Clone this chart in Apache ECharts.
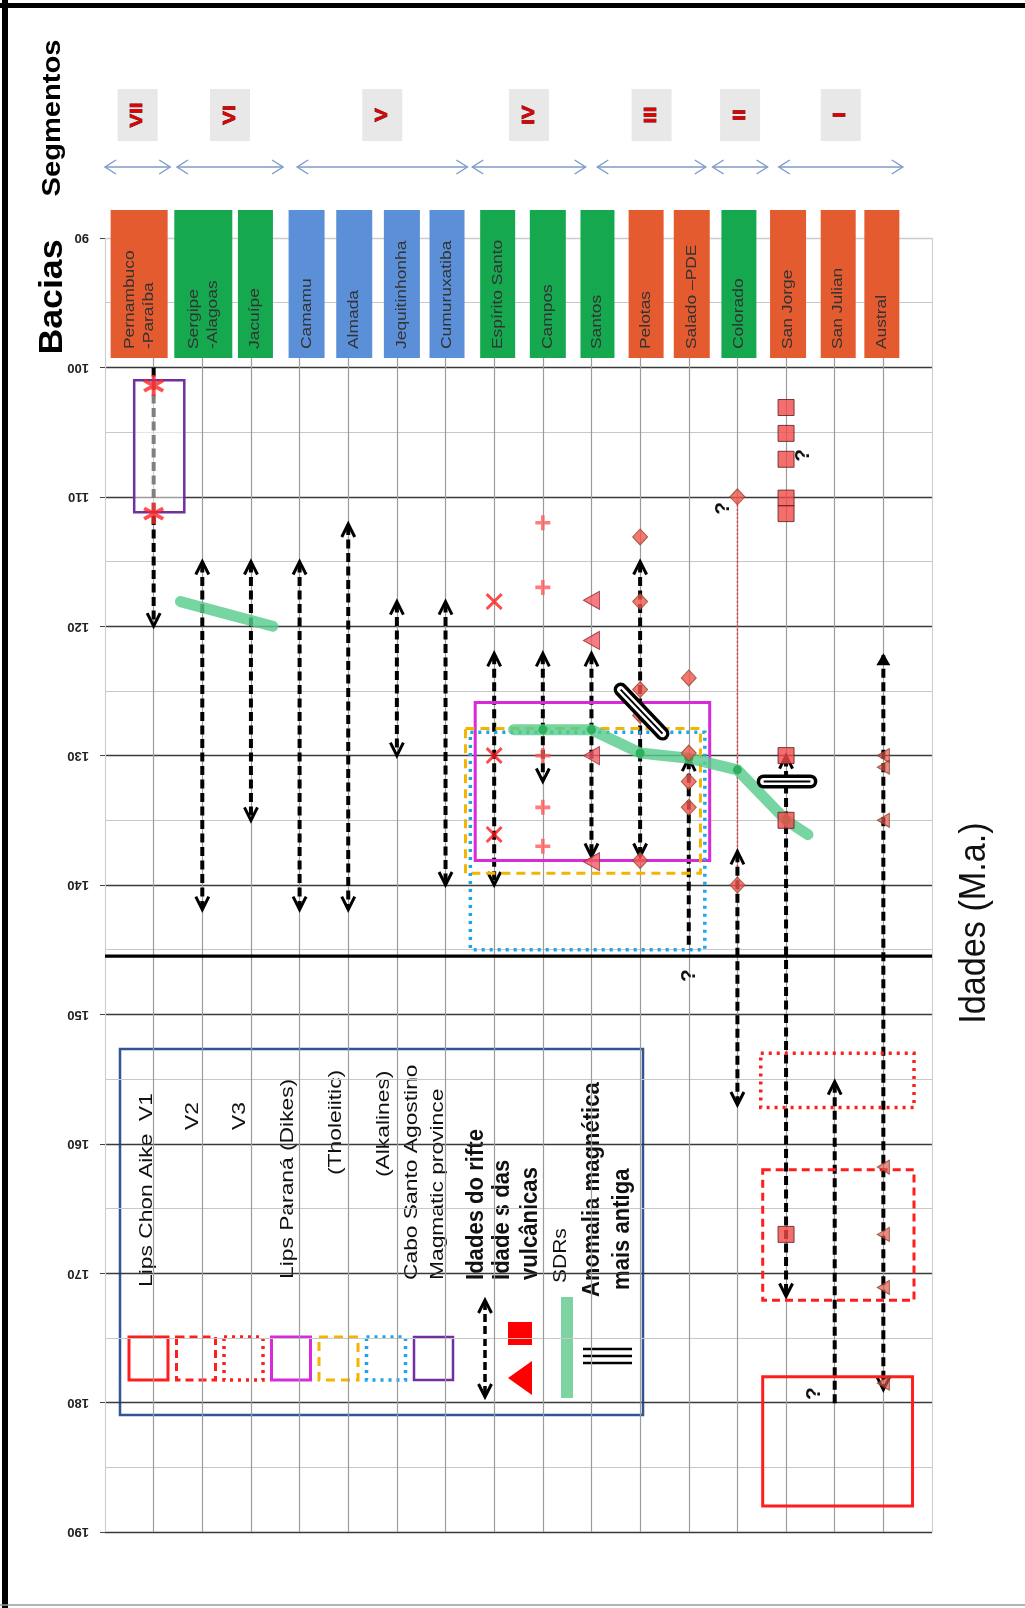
<!DOCTYPE html>
<html>
<head>
<meta charset="utf-8">
<title>Idades do rifte e vulcanismo nas bacias da margem</title>
<script src="https://cdn.jsdelivr.net/npm/echarts@6/dist/echarts.min.js"></script>
<style>
  html, body { margin: 0; padding: 0; background: #ffffff; }
  #chart { width: 1025px; height: 1608px; }
</style>
</head>
<body>
<div id="chart"></div>
<script>
// ---------------------------------------------------------------
// Data
// ---------------------------------------------------------------

// Basins, north to south (x position = index + 1)
const basins = ['Pernambuco\n-Paraíba', 'Sergipe\n-Alagoas', 'Jacuípe', 'Camamu', 'Almada',
  'Jequitinhonha', 'Cumuruxatiba', 'Espírito Santo', 'Campos', 'Santos', 'Pelotas',
  'Salado –PDE', 'Colorado', 'San Jorge', 'San Julian', 'Austral'];
const basinKind = ['laranja', 'verde', 'verde', 'azul', 'azul', 'azul', 'azul', 'verde',
  'verde', 'verde', 'laranja', 'laranja', 'verde', 'laranja', 'laranja', 'laranja'];

// Margin segments and the basin span each one covers
const segmentNames = ['VII', 'VI', 'V', 'IV', 'III', 'II', 'I'];
const segmentFrom = [0.00, 1.48, 3.95, 7.55, 10.12, 12.49, 13.85];
const segmentTo = [1.34, 3.66, 7.45, 9.88, 12.35, 13.62, 16.40];

// Age axis (M.a.)
const ageMin = 90;
const ageMax = 190;
const ageStep = 10;
const boundaryAge = 145.5;

// Rift ages: basin, youngest, oldest, which ends carry an arrow head
const riftBasin = [1, 2, 3, 4, 5, 6, 7, 8, 9, 10, 11, 12, 13, 14, 15, 16];
const riftYoung = [100.0, 115.0, 115.0, 115.0, 112.1, 118.1, 118.1, 122.1, 122.1, 122.1, 115.0, 130.2, 137.4, 130.0, 155.2, 122.1];
const riftOld = [120.0, 141.9, 135.0, 141.9, 141.9, 130.0, 140.0, 140.0, 132.0, 137.8, 137.8, 145.0, 157.0, 171.8, 180.2, 179.0];
const riftHeads = ['old', 'both', 'both', 'both', 'both', 'both', 'both', 'both', 'both', 'both', 'both', 'young', 'both', 'both', 'young', 'both'];

// Volcanic ages: [basin, age]
const asterisks = [[1, 101.4], [1, 111.3]];
const crosses = [[8, 118.1], [8, 130.0], [8, 136.1]];
const pluses = [[9, 112.0], [9, 117.0], [9, 130.0], [9, 134.0], [9, 137.0]];
const trianglesSantos = [[10, 118.0], [10, 121.1], [10, 130.0], [10, 138.2]];
const trianglesAustral = [[16, 130.0], [16, 130.9], [16, 135.0], [16, 161.8], [16, 167.0], [16, 171.1], [16, 178.5]];
const diamonds = [[11, 113.1], [11, 118.1], [11, 124.9], [11, 126.9], [11, 138.1],
  [12, 124.0], [12, 129.8], [12, 132.0], [12, 134.0], [13, 110.0], [13, 140.0]];
const squares = [[14, 103.1], [14, 105.1], [14, 107.1], [14, 110.1], [14, 111.3], [14, 130.0], [14, 135.0], [14, 167.0]];

// Uncertain age span linking two Colorado dates: [basin, young, old]
const dottedLinks = [[13, 110.0, 140.0]];

// SDR traces: [basin position, age]
const sdrNorth = [[1.55, 118.1], [3.45, 120.0]];
const sdrSouth = [[8.4, 128.0], [9, 128.0], [10, 128.0], [11, 129.8], [12, 130.2], [13, 131.1], [14, 135.0], [14.45, 136.1]];

// Oldest magnetic anomaly: [x0, age0, x1, age1]
const anomalies = [[10.6, 124.9, 11.46, 128.3], [13.54, 132.0, 14.5, 132.0]];

// Magmatic provinces (boxes): basin span and age span
const provinceNames = ['Lips Chon Aike  V1', 'V2', 'V3', 'Lips Paraná (Dikes)', '(Tholeiitic)', '(Alkalines)', 'Cabo Santo Agostino'];
const provinceX0 = [13.52, 13.52, 13.48, 7.61, 7.41, 7.51, 0.60];
const provinceX1 = [16.60, 16.63, 16.63, 12.43, 12.24, 12.33, 1.63];
const provinceYoung = [178.0, 162.0, 153.0, 125.9, 127.9, 128.2, 101.0];
const provinceOld = [188.0, 172.1, 157.2, 138.1, 139.1, 145.0, 111.2];

// Question marks on doubtful ages: [basin position, age]
const queries = [[12.7, 110.9], [14.36, 106.8], [12.0, 147.0], [14.57, 179.3]];

// ---------------------------------------------------------------
// Styling
// ---------------------------------------------------------------
const FONT = '"Liberation Sans", Arial, Helvetica, sans-serif';
const KIND_COLOR = { laranja: '#E55B30', verde: '#15A84F', azul: '#5B8FD7' };
const BAR_SHIFT = [-14.5, 1, 4.5, 7, 6, 5, 1.5, 3.5, 5, 6, 6, 3, 1.5, 2, 3.5, -1.5];
const BAR_WIDTH = [57, 58, 35, 36, 36, 36, 35, 35, 36, 34, 35, 36, 35, 36, 35, 35];
const PROVINCE_STYLE = [
  { stroke: '#FF1E1E', lineWidth: 3, lineDash: null },
  { stroke: '#FF1E1E', lineWidth: 3, lineDash: [8, 5] },
  { stroke: '#FF1E1E', lineWidth: 3.5, lineDash: [3, 5] },
  { stroke: '#D82AD8', lineWidth: 3, lineDash: null },
  { stroke: '#F4B400', lineWidth: 3, lineDash: [9, 6] },
  { stroke: '#1DA4EC', lineWidth: 3.5, lineDash: [3, 5] },
  { stroke: '#7030A0', lineWidth: 2.5, lineDash: null, fill: 'rgba(255,255,255,0.5)' }
];
const SEG_COLOR = '#7E9BC6';

const ASTERISK = 'path://M41,0L59,0L59,100L41,100Z M2.2,32.8L11.2,17.2L97.8,67.2L88.8,82.8Z M2.2,67.2L88.8,17.2L97.8,32.8L11.2,82.8Z';
const CROSS = 'path://M12,0L50,38L88,0L100,12L62,50L100,88L88,100L50,62L12,100L0,88L38,50L0,12Z';
const PLUS = 'path://M38,0L62,0L62,38L100,38L100,62L62,62L62,100L38,100L38,62L0,62L0,38L38,38Z';
const TRI_LEFT = 'path://M0,50L100,0L100,100Z';

// ---------------------------------------------------------------
// Drawing helpers
// ---------------------------------------------------------------
function arrowHead(x, y, dir, filled) {
  // dir = -1 points up (towards younger ages), +1 points down
  const back = y - dir * 13;
  if (filled) {
    return { type: 'polygon', shape: { points: [[x - 7, back + dir * 1], [x, y], [x + 7, back + dir * 1]] }, style: { fill: '#000' } };
  }
  return { type: 'polyline', shape: { points: [[x - 6.5, back], [x, y], [x + 6.5, back]] },
    style: { stroke: '#000', lineWidth: 3, fill: null } };
}

function renderHeader(params, api) {
  const i = params.dataIndex;
  const p = api.coord([api.value(0), ageMin]);
  const cx = p[0] + BAR_SHIFT[i];
  const w = BAR_WIDTH[i];
  const top = p[1] - 28, bottom = p[1] + 120;
  return { type: 'group', children: [
    { type: 'rect', shape: { x: cx - w / 2, y: top, width: w, height: bottom - top }, style: { fill: KIND_COLOR[basinKind[i]] } },
    { type: 'text', x: cx, y: bottom - 9, rotation: Math.PI / 2, scaleX: 1.2,
      style: { text: basins[i], fill: '#333', font: '14.5px ' + FONT, align: 'left', verticalAlign: 'middle', lineHeight: 19 } }
  ] };
}

function renderSegment(params, api) {
  const i = params.dataIndex;
  const a = api.coord([api.value(0), ageMin]);
  const b = api.coord([api.value(1), ageMin]);
  const ya = a[1] - 71, yl = a[1] - 123;
  const xm = (a[0] + b[0]) / 2;
  const st = { stroke: SEG_COLOR, lineWidth: 1.4, fill: null };
  return { type: 'group', children: [
    { type: 'line', shape: { x1: a[0], y1: ya, x2: b[0], y2: ya }, style: st },
    { type: 'polyline', shape: { points: [[a[0] + 11, ya - 7], [a[0], ya], [a[0] + 11, ya + 7]] }, style: st },
    { type: 'polyline', shape: { points: [[b[0] - 11, ya - 7], [b[0], ya], [b[0] - 11, ya + 7]] }, style: st },
    { type: 'rect', shape: { x: xm - 20, y: yl - 26, width: 40, height: 52 }, style: { fill: '#E8E8E8' } },
    { type: 'text', x: xm, y: yl, rotation: Math.PI / 2, scaleX: 1.2,
      style: { text: segmentNames[i], fill: '#E30000', font: 'bold 17px ' + FONT, align: 'center', verticalAlign: 'middle',
        stroke: '#3a0000', lineWidth: 0.7 } }
  ] };
}

function renderRift(params, api) {
  const i = params.dataIndex;
  const a = api.coord([api.value(0), api.value(1)]);
  const b = api.coord([api.value(0), api.value(2)]);
  const x = a[0];
  const up = riftHeads[i] === 'both' || riftHeads[i] === 'young';
  const down = riftHeads[i] === 'both' || riftHeads[i] === 'old';
  const kids = [{ type: 'line', shape: { x1: x, y1: a[1] + (up ? 2 : 0), x2: x, y2: b[1] - (down ? 2 : 0) },
    style: { stroke: '#000', lineWidth: 4, lineDash: [9, 4.5] } }];
  if (up) kids.push(arrowHead(x, a[1], -1, riftBasin[i] === 16));
  if (down) kids.push(arrowHead(x, b[1], 1, false));
  return { type: 'group', children: kids };
}

function renderLink(params, api) {
  const a = api.coord([api.value(0), api.value(1)]);
  const b = api.coord([api.value(0), api.value(2)]);
  return { type: 'line', shape: { x1: a[0], y1: a[1], x2: b[0], y2: b[1] },
    style: { stroke: '#F23030', lineWidth: 1.4, lineDash: [2, 2] } };
}

function renderProvince(params, api) {
  const i = params.dataIndex;
  const a = api.coord([api.value(0), api.value(2)]);
  const b = api.coord([api.value(1), api.value(3)]);
  const s = PROVINCE_STYLE[i];
  return { type: 'rect', shape: { x: a[0], y: a[1], width: b[0] - a[0], height: b[1] - a[1] },
    style: { stroke: s.stroke, lineWidth: s.lineWidth, lineDash: s.lineDash, fill: s.fill || null } };
}

function renderBoundary(params, api) {
  const a = api.coord([0, api.value(0)]);
  const b = api.coord([17, api.value(0)]);
  return { type: 'line', shape: { x1: a[0], y1: a[1], x2: b[0], y2: b[1] }, style: { stroke: '#000', lineWidth: 3.2 } };
}

function renderAnomaly(params, api) {
  const a = api.coord([api.value(0), api.value(1)]);
  const b = api.coord([api.value(2), api.value(3)]);
  const shape = { x1: a[0], y1: a[1], x2: b[0], y2: b[1] };
  return { type: 'group', children: [
    { type: 'line', shape: shape, style: { stroke: '#000', lineWidth: 14, lineCap: 'round' } },
    { type: 'line', shape: shape, style: { stroke: '#fff', lineWidth: 7, lineCap: 'round' } },
    { type: 'line', shape: shape, style: { stroke: '#000', lineWidth: 2 } }
  ] };
}

function renderQuery(params, api) {
  const p = api.coord([api.value(0), api.value(1)]);
  return { type: 'text', x: p[0], y: p[1], rotation: Math.PI / 2,
    style: { text: '?', fill: '#111', fontSize: 21, fontWeight: 'bold', fontFamily: FONT, align: 'center', verticalAlign: 'middle' } };
}

// ---------------------------------------------------------------
// Legend (drawn inside the plot area)
// ---------------------------------------------------------------
function vText(text, x, yStart, font, scale) {
  return { type: 'text', x: x, y: yStart, rotation: Math.PI / 2, scaleX: scale,
    style: { text: text, fill: '#111', font: font, align: 'left', verticalAlign: 'middle' } };
}
const legendChildren = [
  { type: 'rect', shape: { x: 120, y: 1049, width: 523, height: 366 }, style: { fill: '#fff', stroke: '#2F5597', lineWidth: 2.5 } }
];
PROVINCE_STYLE.forEach(function (s, i) {
  legendChildren.push({ type: 'rect', shape: { x: 129 + i * 47.5, y: 1337, width: 39, height: 43 },
    style: { stroke: s.stroke, lineWidth: s.lineWidth, lineDash: s.lineDash, fill: null } });
});
const REG = '19px ' + FONT, BLD = 'bold 23px ' + FONT;
legendChildren.push(
  vText(provinceNames[0], 147, 1287, REG, 1.2),
  vText(provinceNames[1], 193, 1130, REG, 1.2),
  vText(provinceNames[2], 240, 1130, REG, 1.2),
  vText(provinceNames[3], 288, 1279, REG, 1.2),
  vText(provinceNames[4], 336, 1175, REG, 1.2),
  vText(provinceNames[5], 384, 1177, REG, 1.2),
  vText(provinceNames[6], 412, 1280, REG, 1.2),
  vText('Magmatic province', 438, 1280, REG, 1.2),
  vText('Idades do rifte', 477, 1280, BLD, 0.96),
  vText('Idade s das', 503, 1280, BLD, 0.96),
  vText('vulcânicas', 531, 1280, BLD, 0.96),
  vText('SDRs', 561, 1283, '17.5px ' + FONT, 1.2),
  vText('Anomalia magnética', 593, 1297, BLD, 0.96),
  vText('mais antiga', 623, 1290, BLD, 0.96),
  // rift-age arrow
  { type: 'line', shape: { x1: 485, y1: 1302, x2: 485, y2: 1395 }, style: { stroke: '#000', lineWidth: 3.5, lineDash: [8, 4] } },
  arrowHead(485, 1300, -1, false),
  arrowHead(485, 1397, 1, false),
  // volcanic-age symbols
  { type: 'rect', shape: { x: 508, y: 1322, width: 24, height: 23 }, style: { fill: '#FF0000' } },
  { type: 'polygon', shape: { points: [[508, 1378], [532, 1361], [532, 1395]] }, style: { fill: '#FF0000' } },
  // SDR bar
  { type: 'rect', shape: { x: 561, y: 1297, width: 12, height: 101 }, style: { fill: '#7ED3A2' } },
  // anomaly mark
  { type: 'line', shape: { x1: 583, y1: 1349, x2: 632, y2: 1349 }, style: { stroke: '#000', lineWidth: 2.5 } },
  { type: 'line', shape: { x1: 583, y1: 1356, x2: 632, y2: 1356 }, style: { stroke: '#000', lineWidth: 2.5 } },
  { type: 'line', shape: { x1: 583, y1: 1363, x2: 632, y2: 1363 }, style: { stroke: '#000', lineWidth: 2.5 } }
);

// ---------------------------------------------------------------
// Chart
// ---------------------------------------------------------------
const chart = echarts.init(document.getElementById('chart'), null, { renderer: 'canvas', width: 1025, height: 1608 });

const xLineColors = ['#cfcfcf'];
for (let i = 1; i < 17; i++) xLineColors.push('#9c9c9c');
xLineColors.push('#cfcfcf');
const yLineColors = ['#cccccc'];
for (let a = ageMin + ageStep; a <= ageMax; a += ageStep) yLineColors.push('#3a3a3a');

const pointSeries = function (data, symbol, size, color, border, z) {
  return { type: 'scatter', data: data, symbol: symbol, symbolSize: size, z: z || 6, silent: true,
    itemStyle: { color: color, borderColor: border || null, borderWidth: border ? 1 : 0 } };
};

const sdrSeries = function (pts) {
  return { type: 'line', data: pts, z: 5, silent: true, showAllSymbol: true,
    symbol: 'circle', symbolSize: function (v) { return Number.isInteger(v[0]) ? 9 : 0; },
    itemStyle: { color: '#2DAF5C' },
    lineStyle: { color: 'rgba(88,204,140,0.82)', width: 11, cap: 'round', join: 'round' } };
};

chart.setOption({
  animation: false,
  backgroundColor: '#ffffff',
  grid: { left: 105, right: 93, top: 238, bottom: 76 },
  xAxis: {
    type: 'value', min: 0, max: 17, interval: 1,
    axisLine: { show: false }, axisTick: { show: false }, axisLabel: { show: false },
    splitLine: { show: true, lineStyle: { color: xLineColors, width: 1.2 } }
  },
  yAxis: {
    type: 'value', min: ageMin, max: ageMax, interval: ageStep, inverse: true,
    axisLine: { show: false },
    axisTick: { show: true, length: 5, lineStyle: { color: '#444' } },
    axisLabel: { rotate: 180, margin: 16, fontSize: 13, fontWeight: 'bold', color: '#222', fontFamily: FONT },
    splitLine: { show: true, lineStyle: { color: yLineColors, width: 1.4 } },
    minorTick: { show: false, splitNumber: 2 },
    minorSplitLine: { show: true, lineStyle: { color: '#c8c8c8', width: 1.2 } }
  },
  graphic: [
    // frame
    { type: 'line', shape: { x1: 5, y1: 0, x2: 5, y2: 1608 }, style: { stroke: '#000', lineWidth: 6 } },
    { type: 'line', shape: { x1: 0, y1: 5.5, x2: 1025, y2: 5.5 }, style: { stroke: '#000', lineWidth: 5 } },
    { type: 'line', shape: { x1: 0, y1: 1605, x2: 1025, y2: 1605 }, style: { stroke: '#9a9a9a', lineWidth: 1.5 } },
    // titles
    { type: 'text', x: 53, y: 118, rotation: Math.PI / 2, scaleX: 1.12,
      style: { text: 'Segmentos', fill: '#000', font: 'bold 26px ' + FONT, align: 'center', verticalAlign: 'middle' } },
    { type: 'text', x: 53, y: 297, rotation: Math.PI / 2, scaleX: 1.05,
      style: { text: 'Bacias', fill: '#000', font: 'bold 34px ' + FONT, align: 'center', verticalAlign: 'middle' } },
    { type: 'text', x: 975, y: 923, rotation: Math.PI / 2, scaleX: 0.95,
      style: { text: 'Idades (M.a.)', fill: '#111', font: '36px ' + FONT, align: 'center', verticalAlign: 'middle' } },
    { type: 'group', z: 100, children: legendChildren }
  ],
  series: [
    { type: 'custom', name: 'bacias', renderItem: renderHeader, clip: false, z: 8, silent: true,
      data: basins.map(function (b, i) { return [i + 1, ageMin]; }), encode: { x: 0, y: 1 } },
    { type: 'custom', name: 'segmentos', renderItem: renderSegment, clip: false, z: 8, silent: true,
      data: segmentNames.map(function (s, i) { return [segmentFrom[i], segmentTo[i], ageMin]; }), encode: { x: [0, 1], y: 2 } },
    { type: 'custom', name: 'limite', renderItem: renderBoundary, z: 2, silent: true,
      data: [[boundaryAge]], encode: { y: 0 } },
    { type: 'custom', name: 'ligacao', renderItem: renderLink, z: 3, silent: true,
      data: dottedLinks, encode: { x: 0, y: [1, 2] } },
    { type: 'custom', name: 'rifte', renderItem: renderRift, z: 4, silent: true,
      data: riftBasin.map(function (b, i) { return [b, riftYoung[i], riftOld[i]]; }), encode: { x: 0, y: [1, 2] } },
    { type: 'custom', name: 'provincias', renderItem: renderProvince, z: 4.5, silent: true,
      data: provinceNames.map(function (n, i) { return [provinceX0[i], provinceX1[i], provinceYoung[i], provinceOld[i]]; }),
      encode: { x: [0, 1], y: [2, 3] } },
    sdrSeries(sdrNorth),
    sdrSeries(sdrSouth),
    pointSeries(asterisks, ASTERISK, 21, '#FF2424'),
    pointSeries(crosses, CROSS, 17, '#FF1A1A'),
    pointSeries(pluses, PLUS, 15, '#FF5B5B'),
    pointSeries(trianglesSantos, TRI_LEFT, [16, 18], '#F25A66', '#9A2A2A'),
    pointSeries(trianglesAustral, TRI_LEFT, [12, 14], 'rgba(222,86,70,0.85)', '#8A3A2A'),
    pointSeries(diamonds, 'diamond', [15, 16], '#F2554F', '#8A4A2A'),
    pointSeries(squares, 'rect', 16, '#F24A4A', '#5A1A1A'),
    { type: 'custom', name: 'anomalia', renderItem: renderAnomaly, z: 7, silent: true,
      data: anomalies, encode: { x: [0, 2], y: [1, 3] } },
    { type: 'custom', name: 'duvida', renderItem: renderQuery, z: 7, silent: true, clip: false,
      data: queries, encode: { x: 0, y: 1 } }
  ]
});
</script>
</body>
</html>
